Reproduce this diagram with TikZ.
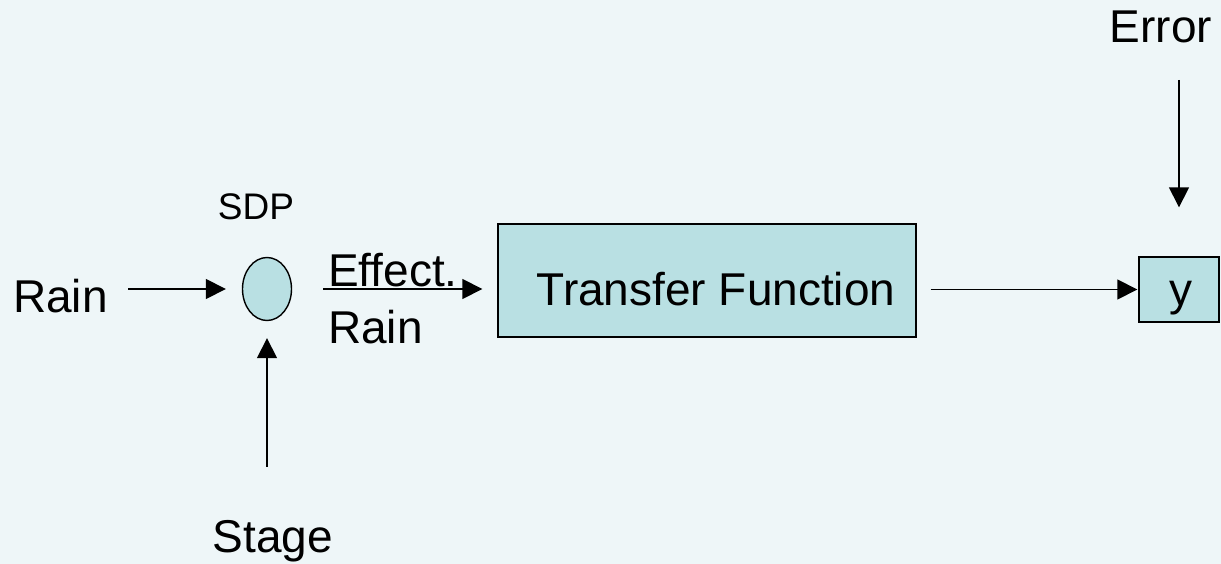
\documentclass[tikz,border=0pt]{standalone}
\usepackage{fontspec}
\setmainfont{Liberation Sans}
\usetikzlibrary{arrows.meta,shapes.geometric}
\definecolor{bgcol}{RGB}{238,246,248}
\definecolor{boxfill}{RGB}{185,224,227}
\tikzset{
  lbl/.style={inner sep=0pt,font=\fontsize{46}{57}\selectfont},
  smalllbl/.style={inner sep=0pt,font=\fontsize{37}{44}\selectfont},
  blockbox/.style={draw=black,line width=1.4pt,fill=boxfill,inner sep=0pt},
  arr/.style={draw=black,line width=1.6pt,-{Triangle[length=20pt,width=20pt]}}
}
\begin{document}
\begin{tikzpicture}[x=1pt,y=-1pt]
  \fill[bgcol] (0,0) rectangle (1221,564);
  \useasboundingbox (0,0) rectangle (1221,564);

  % summing junction and blocks
  \node[blockbox,ellipse,minimum width=49pt,minimum height=63pt] (sdp) at (267,289) {};
  \node[blockbox,rectangle,minimum width=418pt,minimum height=113pt] (tf) at (707,280.5) {};
  \node[lbl,anchor=base] at (716,305) {Transfer Function};
  \node[blockbox,rectangle,minimum width=80pt,minimum height=65pt] (y) at (1179,289.5) {};
  \node[lbl,anchor=base] at (1181,305) {y};

  % labels
  \node[lbl,anchor=base west] (rain) at (13,312) {Rain};
  \node[smalllbl,anchor=base] (sdplbl) at (256,220) {SDP};
  \node[lbl,anchor=base west,align=left] (eff) at (328,343) {Effect.\\Rain};
  \node[lbl,anchor=base] (stage) at (273,552) {Stage};
  \node[lbl,anchor=base] (err) at (1161,43) {Error};

  % signal flow
  \draw[arr,shorten <=20pt,shorten >=16pt] (rain.east |- sdp.west) -- (sdp.west);
  \draw[arr,shorten <=31pt,shorten >=15pt] (sdp.east) -- (tf.west |- sdp.east);
  \draw[arr,shorten <=14pt,shorten >=1pt] (tf.east |- y.west) -- (y.west);
  \draw[arr,shorten <=37pt,shorten >=49pt] (err.base -| y.north) -- (y.north);
  \draw[arr,shorten <=53pt,shorten >=17pt] (stage.north -| sdp.south) -- (sdp.south);
\end{tikzpicture}
\end{document}
